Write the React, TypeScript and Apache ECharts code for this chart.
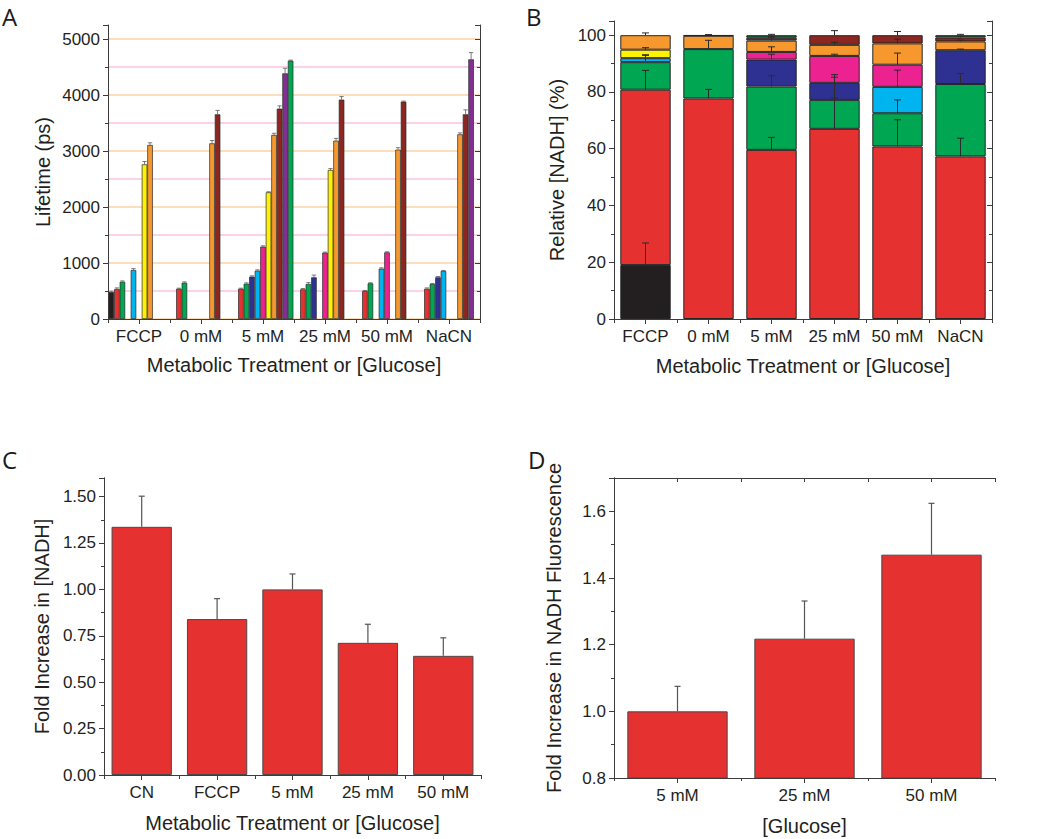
import { useEffect, useRef } from 'react';
import * as echarts from 'echarts';

// ---------------- DATA ----------------
// Panel A / B categories
const categoriesAB = ['FCCP', '0 mM', '5 mM', '25 mM', '50 mM', 'NaCN'];

// Panel A: lifetime (ps) of each component, per category (null = absent)
const ltBlack = [480, null, null, null, null, null];
const ltRed = [535, 540, 540, 530, 500, 540];
const ltGreen = [665, 648, 630, 625, 637, 625];
const ltNavy = [null, null, 756, 744, null, 744];
const ltCyan = [875, null, 863, null, 899, 857];
const ltMagenta = [null, null, 1292, 1185, 1190, null];
const ltYellow = [2762, null, 2262, 2661, null, null];
const ltOrange = [3107, 3137, 3286, 3185, 3024, 3298];
const ltBrown = [null, 3655, 3756, 3917, 3881, 3655];
const ltPurple = [null, null, 4387, null, null, 4637];
const ltGreen2 = [null, null, 4613, null, null, null];

// Panel A errors (ps)
const ltBlackErr = [15, null, null, null, null, null];
const ltRedErr = [20, 10, 10, 15, 10, 15];
const ltGreenErr = [15, 15, 15, 25, 10, 10];
const ltNavyErr = [null, null, 15, 40, null, 15];
const ltCyanErr = [25, null, 15, null, 15, 10];
const ltMagentaErr = [null, null, 15, 10, 10, null];
const ltYellowErr = [50, null, 10, 25, null, null];
const ltOrangeErr = [40, 50, 30, 40, 35, 25];
const ltBrownErr = [null, 70, 50, 55, 10, 80];
const ltPurpleErr = [null, null, 90, null, null, 120];
const ltGreen2Err = [null, null, 10, null, null, null];

// Panel B: relative [NADH] (%) of each component (stacked)
const relBlack = [19.0, null, null, null, null, null];
const relRed = [61.8, 77.7, 59.6, 67.0, 60.8, 57.3];
const relGreen = [9.7, 17.4, 22.3, 10.2, 11.7, 25.5];
const relNavy = [null, null, 9.5, 6.0, null, 11.9];
const relCyan = [1.4, null, null, null, 9.3, null];
const relMagenta = [null, null, 2.7, 9.5, 7.8, null];
const relYellow = [3.0, null, null, null, null, null];
const relOrange = [5.1, 4.7, 4.0, 3.9, 7.5, 3.1];
const relBrown = [null, 0.2, 1.0, 3.4, 2.9, 1.4];
const relDarkGreen = [null, null, 0.9, null, null, 0.8];

// Panel B errors (%)
const relBlackErr = [7.8, null, null, null, null, null];
const relRedErr = [6.8, 3.2, 4.4, 10.9, 9.4, 6.4];
const relGreenErr = [2.6, 3.1, 3.8, 8.9, 4.7, 3.7];
const relNavyErr = [null, null, 1.9, 2.0, null, 0.4];
const relCyanErr = [1.0, null, null, null, 5.9, null];
const relMagentaErr = [null, null, 1.8, 0.6, 4.1, null];
const relYellowErr = [0.7, null, null, null, null, null];
const relOrangeErr = [0.8, 0.3, 1.2, 0.9, 1.5, 0.5];
const relBrownErr = [null, 0.2, 0.6, 1.6, 1.3, 0.4];
const relDarkGreenErr = [null, null, 0.3, null, null, 0.3];

// Panel C
const categoriesC = ['CN', 'FCCP', '5 mM', '25 mM', '50 mM'];
const foldNADH = [1.337, 0.84, 1.0, 0.712, 0.642];
const foldNADHErr = [0.165, 0.11, 0.083, 0.1, 0.097];

// Panel D
const categoriesD = ['5 mM', '25 mM', '50 mM'];
const foldFluor = [1.0, 1.218, 1.47];
const foldFluorErr = [0.075, 0.113, 0.154];

// ---------------- STYLE ----------------
const FONT = '"Liberation Sans", Arial, Helvetica, sans-serif';
const TXT = '#231f20';
const AX = '#3c3c3c';
const C_BLACK = '#231f20';
const C_RED = '#e53130';
const C_GREEN = '#00a651';
const C_NAVY = '#2e3192';
const C_CYAN = '#00b4ef';
const C_MAGENTA = '#ec2290';
const C_YELLOW = '#fff200';
const C_ORANGE = '#f6982e';
const C_BROWN = '#8b2620';
const C_PURPLE = '#82308f';
const C_DKGREEN = '#106b3c';

const ltValues = [ltBlack, ltRed, ltGreen, ltNavy, ltCyan, ltMagenta, ltYellow, ltOrange, ltBrown, ltPurple, ltGreen2];
const ltErrors = [ltBlackErr, ltRedErr, ltGreenErr, ltNavyErr, ltCyanErr, ltMagentaErr, ltYellowErr, ltOrangeErr, ltBrownErr, ltPurpleErr, ltGreen2Err];
const ltColors = [C_BLACK, C_RED, C_GREEN, C_NAVY, C_CYAN, C_MAGENTA, C_YELLOW, C_ORANGE, C_BROWN, C_PURPLE, C_GREEN];

const relValues = [relBlack, relRed, relGreen, relNavy, relCyan, relMagenta, relYellow, relOrange, relBrown, relDarkGreen];
const relErrors = [relBlackErr, relRedErr, relGreenErr, relNavyErr, relCyanErr, relMagentaErr, relYellowErr, relOrangeErr, relBrownErr, relDarkGreenErr];
const relColors = [C_BLACK, C_RED, C_GREEN, C_NAVY, C_CYAN, C_MAGENTA, C_YELLOW, C_ORANGE, C_BROWN, C_DKGREEN];

const GAP_A = 0.02;

function buildOption() {
  const grids = [
    { left: 108, top: 25, width: 372, height: 294 },
    { left: 614, top: 21, width: 378, height: 298 },
    { left: 104, top: 478, width: 377, height: 297 },
    { left: 614, top: 478, width: 381, height: 300 },
  ];

  const xAxes: any[] = [];
  const yAxes: any[] = [];
  const labelStyle = { fontFamily: FONT, fontSize: 17, color: TXT };
  const nameStyle = { fontFamily: FONT, fontSize: 20, color: TXT };

  const addX = (g: number, cats: string[], name: string, nameGap: number, boundaryTicks: boolean) => {
    const idx = xAxes.length;
    xAxes.push({
      type: 'category', gridIndex: g, position: 'bottom', data: cats, z: 3,
      name, nameLocation: 'middle', nameGap, nameTextStyle: nameStyle,
      axisLine: { show: true, lineStyle: { color: AX, width: 1 } },
      axisTick: { show: true, alignWithLabel: true, inside: false, length: 5, lineStyle: { color: AX } },
      axisLabel: { ...labelStyle, margin: 9, interval: 0 },
      splitLine: { show: false },
    });
    xAxes.push({
      type: 'value', gridIndex: g, position: 'top', min: 0, max: cats.length, interval: 0.5, z: 3,
      axisLine: { show: true, lineStyle: { color: AX, width: 1 } },
      axisTick: { show: true, inside: true, length: 4, lineStyle: { color: AX } },
      axisLabel: { show: false }, splitLine: { show: false },
    });
    if (boundaryTicks) {
      xAxes.push({
        type: 'value', gridIndex: g, position: 'bottom', min: 0, max: cats.length, interval: 1, z: 3,
        axisLine: { show: false },
        axisTick: { show: true, inside: false, length: 3, lineStyle: { color: AX } },
        axisLabel: { show: false }, splitLine: { show: false },
      });
    }
    return idx;
  };

  const addY = (g: number, min: number, max: number, interval: number, name: string, nameGap: number,
    fmt: (v: number) => string) => {
    const idx = yAxes.length;
    yAxes.push({
      type: 'value', gridIndex: g, position: 'left', min, max, interval, z: 3,
      name, nameLocation: 'middle', nameGap, nameTextStyle: nameStyle,
      axisLine: { show: true, lineStyle: { color: AX, width: 1 } },
      axisTick: { show: true, inside: false, length: 5, lineStyle: { color: AX } },
      minorTick: { show: true, splitNumber: 2, length: 3, lineStyle: { color: AX } },
      axisLabel: { ...labelStyle, margin: 8, formatter: fmt, showMaxLabel: false },
      splitLine: { show: false },
    });
    yAxes.push({
      type: 'value', gridIndex: g, position: 'right', min, max, interval, z: 3,
      axisLine: { show: true, lineStyle: { color: AX, width: 1 } },
      axisTick: { show: true, inside: true, length: 5, lineStyle: { color: AX } },
      minorTick: { show: true, splitNumber: 2, length: 3, lineStyle: { color: AX } },
      axisLabel: { show: false }, splitLine: { show: false },
    });
    return idx;
  };

  // Panel A axes
  const xA = addX(0, categoriesAB, 'Metabolic Treatment or [Glucose]', 36, false);
  const yA = addY(0, 0, 5250, 1000, 'Lifetime (ps)', 55, (v) => String(Math.round(v)));
  // Helper axis for alternating orange / pink grid lines (last line at the frame is transparent)
  yAxes.push({
    type: 'value', gridIndex: 0, position: 'left', min: 0, max: 5250, interval: 500, z: 0,
    axisLine: { show: false }, axisTick: { show: false }, axisLabel: { show: false },
    splitLine: {
      show: true,
      lineStyle: {
        width: 1.5,
        color: ['#fbd3a6', '#f8c4e2', '#fbd3a6', '#f8c4e2', '#fbd3a6', '#f8c4e2', '#fbd3a6', '#f8c4e2',
          '#fbd3a6', '#f8c4e2', '#fbd3a6', 'rgba(0,0,0,0)'],
      },
    },
  });

  // Panel B axes
  const xB = addX(1, categoriesAB, 'Metabolic Treatment or [Glucose]', 37, false);
  const yB = addY(1, 0, 105, 20, 'Relative [NADH] (%)', 47, (v) => String(Math.round(v)));

  // Panel C axes
  const xC = addX(2, categoriesC, 'Metabolic Treatment or [Glucose]', 38, true);
  const yC = addY(2, 0, 1.6, 0.25, 'Fold Increase in [NADH]', 52, (v) => v.toFixed(2));

  // Panel D axes
  const xD = addX(3, categoriesD, '[Glucose]', 38, true);
  const yD = addY(3, 0.8, 1.7, 0.2, 'Fold Increase in NADH Fluorescence', 50, (v) => v.toFixed(1));

  const series: any[] = [];

  // ---- Panel A bars ----
  ltValues.forEach((vals, s) => {
    series.push({
      type: 'bar', name: 'A' + s, xAxisIndex: xA, yAxisIndex: yA,
      data: vals, barGap: '0%', barCategoryGap: GAP_A * 100 + '%',
      itemStyle: { color: ltColors[s], borderColor: '#2a2a2a', borderWidth: 0.7 },
      z: 2,
    });
  });
  const errAData: any[] = [];
  ltValues.forEach((vals, s) => {
    vals.forEach((v, ci) => {
      const e = ltErrors[s][ci];
      if (v != null && e != null) errAData.push([ci, v, e, s]);
    });
  });
  series.push({
    type: 'custom', name: 'A err', xAxisIndex: xA, yAxisIndex: yA, z: 3,
    encode: { x: 0, y: 1 }, data: errAData,
    renderItem: (_p: any, api: any) => {
      const ci = api.value(0), v = api.value(1), e = api.value(2), s = api.value(3);
      const band = api.size([1, 0])[0];
      const used = band * (1 - GAP_A);
      const bw = used / ltValues.length;
      const base = api.coord([ci, v]);
      const top = api.coord([ci, v + e]);
      const x = base[0] - used / 2 + (s + 0.5) * bw;
      const half = bw / 2 - 0.6;
      const st = { stroke: '#5a5a5a', lineWidth: 0.8 };
      return {
        type: 'group', children: [
          { type: 'line', shape: { x1: x, y1: base[1], x2: x, y2: top[1] }, style: st },
          { type: 'line', shape: { x1: x - half, y1: top[1], x2: x + half, y2: top[1] }, style: st },
        ],
      };
    },
  });

  // ---- Panel B stacked bars ----
  relValues.forEach((vals, s) => {
    series.push({
      type: 'bar', name: 'B' + s, xAxisIndex: xB, yAxisIndex: yB, stack: 'rel',
      data: vals, barCategoryGap: '20%',
      itemStyle: { color: relColors[s], borderColor: '#262626', borderWidth: 1 },
      z: 2,
    });
  });
  const errBData: any[] = [];
  categoriesAB.forEach((_c, ci) => {
    let cum = 0;
    relValues.forEach((vals, s) => {
      const v = vals[ci];
      if (v == null) return;
      cum += v;
      const e = relErrors[s][ci];
      if (e != null) errBData.push([ci, cum, e]);
    });
  });

  const errRender = (half: number, color: string, width: number) => (_p: any, api: any) => {
    const ci = api.value(0), v = api.value(1), e = api.value(2);
    const base = api.coord([ci, v]);
    const top = api.coord([ci, v + e]);
    const st = { stroke: color, lineWidth: width };
    return {
      type: 'group', children: [
        { type: 'line', shape: { x1: base[0], y1: base[1], x2: base[0], y2: top[1] }, style: st },
        { type: 'line', shape: { x1: base[0] - half, y1: top[1], x2: base[0] + half, y2: top[1] }, style: st },
      ],
    };
  };

  series.push({
    type: 'custom', name: 'B err', xAxisIndex: xB, yAxisIndex: yB, z: 3,
    encode: { x: 0, y: 1 }, data: errBData, renderItem: errRender(3.5, '#2b2b2b', 1),
  });

  // ---- Panel C ----
  series.push({
    type: 'bar', name: 'C', xAxisIndex: xC, yAxisIndex: yC, data: foldNADH, barCategoryGap: '20%',
    itemStyle: { color: C_RED, borderColor: '#4a4a4a', borderWidth: 1 }, z: 2,
  });
  series.push({
    type: 'custom', name: 'C err', xAxisIndex: xC, yAxisIndex: yC, z: 3, encode: { x: 0, y: 1 },
    data: foldNADH.map((v, i) => [i, v, foldNADHErr[i]]), renderItem: errRender(3, '#555555', 1.2),
  });

  // ---- Panel D ----
  series.push({
    type: 'bar', name: 'D', xAxisIndex: xD, yAxisIndex: yD, data: foldFluor, barCategoryGap: '21%',
    itemStyle: { color: C_RED, borderColor: '#4a4a4a', borderWidth: 1 }, z: 2,
  });
  series.push({
    type: 'custom', name: 'D err', xAxisIndex: xD, yAxisIndex: yD, z: 3, encode: { x: 0, y: 1 },
    data: foldFluor.map((v, i) => [i, v, foldFluorErr[i]]), renderItem: errRender(3, '#555555', 1.2),
  });

  const letter = (t: string, left: number, top: number) => ({
    type: 'text', left, top, z: 10,
    style: { text: t, fill: '#1a1a1a', font: '24px "Open Sans", "DejaVu Sans", sans-serif', lineHeight: 26 },
  });

  return {
    animation: false,
    backgroundColor: '#ffffff',
    grid: grids.map((g) => ({ ...g, containLabel: false })),
    xAxis: xAxes,
    yAxis: yAxes,
    series,
    graphic: [letter('A', 2, 3), letter('B', 526, 3), letter('C', 2, 446), letter('D', 528, 446)],
  };
}

export default function App() {
  const ref = useRef<HTMLDivElement>(null);
  useEffect(() => {
    if (!ref.current) return;
    const chart = echarts.init(ref.current, undefined, { renderer: 'svg' });
    chart.setOption(buildOption() as any);
    return () => chart.dispose();
  }, []);
  return (
    <div
      ref={ref}
      style={{ position: 'absolute', left: 0, top: 0, width: 1050, height: 839, background: '#fff' }}
    />
  );
}
